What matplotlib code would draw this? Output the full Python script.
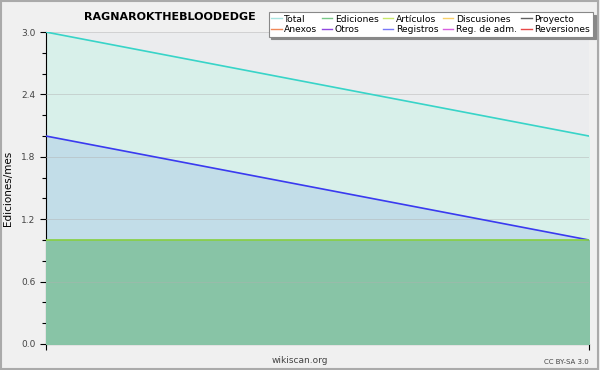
import matplotlib.pyplot as plt
from matplotlib.lines import Line2D
from matplotlib.patches import Rectangle

months = [0, 1]
total = [3.0, 2.0]
edits_blue = [2.0, 1.0]
articles = [1.0, 1.0]

legend_names = ["Total", "Anexos", "Ediciones", "Otros", "Artículos", "Registros",
                "Discusiones", "Reg. de adm.", "Proyecto", "Reversiones"]
legend_colors = ["#a8e4e0", "#f08858", "#78c888", "#9048e0", "#c8e868", "#7878f8",
                 "#f8d068", "#d860e0", "#606060", "#e84848"]

fig = plt.figure(figsize=(6, 3.7), dpi=100, facecolor="#f0f0f0")
fig.patches.append(Rectangle((0.002, 0.003), 0.995, 0.994, transform=fig.transFigure,
                             fill=False, edgecolor="#aaaaaa", linewidth=1.5))
ax = fig.add_axes([0.0767, 0.0703, 0.905, 0.843])
ax.set_facecolor("#ebecee")

ax.fill_between(months, 0, total, color="#d8f0ea", zorder=1)
ax.fill_between(months, 0, edits_blue, color="#c2dde8", zorder=2)
ax.fill_between(months, 0, articles, color="#88c4a6", zorder=3)
ax.plot(months, total, color="#38d4c8", lw=1.2, zorder=5)
ax.plot(months, edits_blue, color="#3a3af0", lw=1.2, zorder=5)
ax.plot(months, articles, color="#88d040", lw=1.2, zorder=5)

ax.set_xlim(0, 1)
ax.set_ylim(0, 3.0)
ax.set_yticks([0, 0.6, 1.2, 1.8, 2.4, 3.0])
ax.set_yticklabels(["0.0", "0.6", "1.2", "1.8", "2.4", "3.0"])
ax.set_yticks([0.2, 0.4, 0.8, 1.0, 1.4, 1.6, 2.0, 2.2, 2.6, 2.8], minor=True)
ax.set_xticks([0, 1])
ax.set_xticklabels([])
for y in [0.6, 1.2, 1.8, 2.4, 3.0]:
    ax.axhline(y, color="#b0b0b0", lw=0.7, alpha=0.45, zorder=4)
for s in ["top", "right"]:
    ax.spines[s].set_visible(False)
ax.tick_params(axis="y", labelsize=6.5, labelcolor="#444444", length=4, width=0.8)
ax.tick_params(axis="y", which="minor", length=3, width=0.8)
ax.tick_params(axis="x", length=4, width=0.8)
ax.set_ylabel("Ediciones/mes", fontsize=7.5, labelpad=6)

fig.text(0.283, 0.953, "RAGNAROKTHEBLOODEDGE", ha="center", va="center",
         fontsize=8, fontweight="bold")
fig.text(0.5, 0.025, "wikiscan.org", ha="center", va="center", fontsize=6.5, color="#444444")
fig.text(0.982, 0.022, "CC BY-SA 3.0", ha="right", va="center", fontsize=5, color="#444444")

handles = [Line2D([], [], color=c, lw=1) for c in legend_colors]
leg = fig.legend(handles, legend_names, ncol=5, loc="upper right",
                 bbox_to_anchor=(0.988, 0.968), fontsize=6.6, frameon=True,
                 fancybox=False, shadow={"color": "#888888", "alpha": 1},
                 handlelength=1.1, handletextpad=0.3,
                 columnspacing=0.5, labelspacing=0.15, borderpad=0.3, borderaxespad=0)
leg.get_frame().set_edgecolor("#888888")
leg.get_frame().set_linewidth(0.8)

fig.savefig("out.png", dpi=100, facecolor=fig.get_facecolor())
